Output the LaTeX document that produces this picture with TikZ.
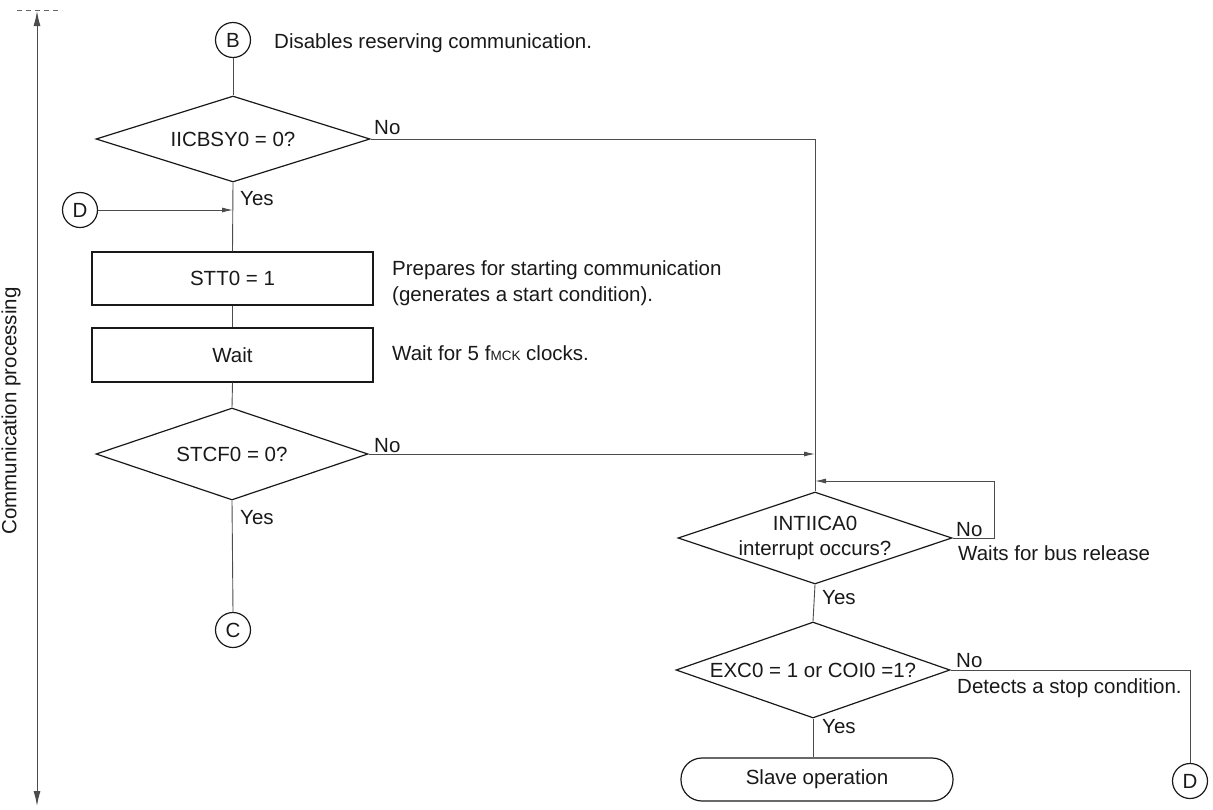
\documentclass[tikz,border=0pt]{standalone}
\usepackage{fontspec}
\setmainfont{Liberation Sans}
\usetikzlibrary{shapes.geometric,arrows.meta}
\begin{document}
\begin{tikzpicture}[x=1pt,y=-1pt,
  every node/.style={font=\fontsize{20.5}{24.5}\selectfont, text=black!90},
  shp/.style={draw=black!90, line width=1.2pt},
  conn/.style={draw=black!70, line width=0.9pt},
  arr/.style={conn,-{Latex[length=11pt,width=5pt]}},
  dec/.style={shp, diamond, aspect=3, inner sep=0pt},
  proc/.style={shp, rectangle, minimum width=281pt, minimum height=53pt, inner sep=0pt},
  conn circ/.style={shp, circle, minimum size=35pt, inner sep=0pt},
  term/.style={shp, rectangle, rounded corners=21pt, minimum width=272pt, minimum height=43pt, inner sep=0pt},
  lbl/.style={anchor=west, inner sep=0pt}
]
\useasboundingbox (0,0) rectangle (1213,809);

% left range arrow
\draw[draw=black!60, line width=1pt, dash pattern=on 5pt off 4pt] (17,10) -- (62,10);
\coordinate (rtop) at (37,11);
\coordinate (rbot) at (37,806);
\draw[draw=black!70, line width=1pt, {Latex[length=15pt,width=7pt]}-{Latex[length=15pt,width=7pt]}] (rtop) -- (rbot);
\node[rotate=90, inner sep=0pt] (rlab) at (11,411) {Communication processing};

% left column
\node[conn circ] (B) at (233,40) {B};
\node[lbl] (tB) at (274,43) {Disables reserving communication.};
\node[dec, minimum width=274pt, minimum height=86pt, label={center:IICBSY0 = 0?}] (d1) at (233,139) {};
\node[conn circ] (D1) at (80,210) {D};
\node[proc, minimum height=53pt] (s1) at (232.5,278.5) {STT0 = 1};
\node[lbl] (t1a) at (392,270) {Prepares for starting communication};
\node[lbl] (t1b) at (392,296) {(generates a start condition).};
\node[proc, minimum height=54pt] (s2) at (232.5,355) {Wait};
\node[lbl] (t2) at (392,353) {Wait for 5 f{\fontsize{13.5}{15}\selectfont MCK} clocks.};
\node[dec, minimum width=272pt, minimum height=92pt, label={center:STCF0 = 0?}] (d2) at (232,454) {};
\node[conn circ] (C) at (233,630) {C};

% right column
\node[dec, minimum width=274pt, minimum height=92pt, label={[align=center]center:INTIICA0\\interrupt occurs?}] (d3) at (815,538) {};
\node[dec, minimum width=274pt, minimum height=96pt, label={center:EXC0 = 1 or COI0 =1?}] (d4) at (813,670) {};
\node[term] (sl) at (817,779.5) {Slave operation};
\node[conn circ] (D2) at (1190,781) {D};

\node[lbl] (tw) at (958,553) {Waits for bus release};
\node[lbl] (td) at (957,688) {Detects a stop condition.};

% yes / no labels
\node[lbl] (n1) at (374,128) {No};
\node[lbl] (y1) at (240,199) {Yes};
\node[lbl] (n2) at (374,446) {No};
\node[lbl] (y2) at (240,518) {Yes};
\node[lbl] (n3) at (956,530) {No};
\node[lbl] (y3) at (822,598) {Yes};
\node[lbl] (n4) at (956,661) {No};
\node[lbl] (y4) at (822,727) {Yes};

% connectors
\draw[conn] (B) -- (d1.north);
\draw[conn] (d1.south) -- (s1.north);
\draw[arr] (D1.east) -- (D1.east -| d1.south);
\draw[conn] (s1.south) -- (s2.north);
\draw[conn] (s2.south) -- (d2.north);
\draw[conn] (d2.south) -- (C.north);
\draw[conn] (d1.east) -| (d3.north);
\coordinate (m2) at (d2.east -| d3.north);
\draw[arr] (d2.east) -- (m2);
\coordinate (loopend) at (815,481);
\draw[arr] (d3.east) -- (994,538) |- (loopend);
\draw[conn] (d3.south) -- (d4.north);
\draw[conn] (d4.south) -- (d4.south |- sl.north);
\draw[conn] (d4.east) -| (D2.north);
\end{tikzpicture}
\end{document}
